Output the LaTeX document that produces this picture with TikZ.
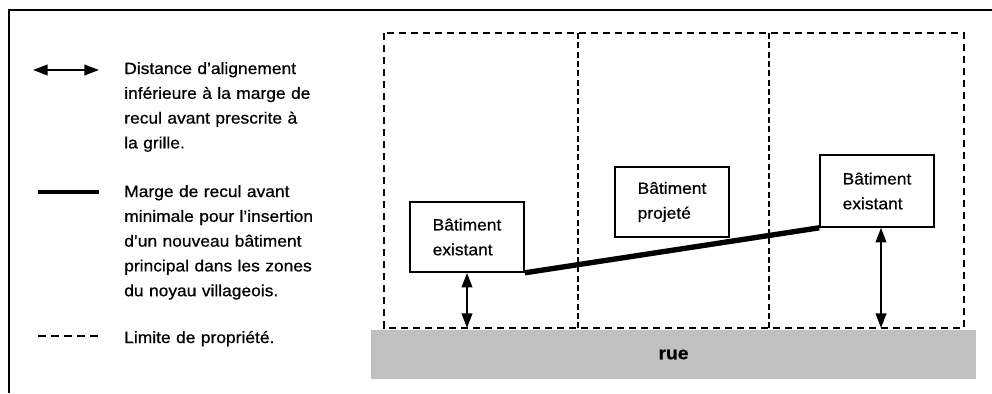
\documentclass[tikz,border=0pt]{standalone}
\usepackage{fontspec}
\setmainfont{Liberation Sans}[FakeStretch=1.07,FakeBold=0.7]
\usetikzlibrary{arrows.meta,calc}
\definecolor{ruegris}{RGB}{192,192,192}
\begin{document}
\begin{tikzpicture}[x=0.75pt,y=-0.75pt,
 txt/.style={font=\fontsize{12.2}{18.6}\selectfont},
 leg/.style={txt,inner sep=0pt,text width=160pt,align=left,anchor=base west},
 bat/.style={draw,line width=1.2pt,txt,align=left,minimum width=85.5pt,minimum height=52.5pt,inner sep=0pt},
 fl/.style={line width=1.4pt,{Triangle[length=11pt,width=8pt]}-{Triangle[length=11pt,width=8pt]}},
 marge/.style={line width=4pt},
 lim/.style={line width=1.2pt,dash pattern=on 5.5pt off 3.5pt},
 sep/.style={line width=0.8pt,dash pattern=on 4.5pt off 2.5pt}]
\useasboundingbox(0,0)rectangle(992,393);
\draw[line width=1.5pt](9,393)|-(992,10);
% legende
\coordinate(flA)at(33,70);\coordinate(flB)at(99,70);
\draw[fl](flA)--(flB);
\node[leg](legA)at(124,74){Distance d’alignement\\inférieure à la marge de\\recul avant prescrite à\\la grille.};
\coordinate(mgA)at(38,192);\coordinate(mgB)at(99,192);
\draw[line width=3.5pt](mgA)--(mgB);
\node[leg](legB)at(124,197){Marge de recul avant\\minimale pour l’insertion\\d’un nouveau bâtiment\\principal dans les zones\\du noyau villageois.};
\coordinate(lmA)at(38,336);\coordinate(lmB)at(101,336);
\draw[line width=1.1pt,dash pattern=on 6pt off 3.75pt](lmA)--(lmB);
\node[leg](legC)at(124,343){Limite de propriété.};
% rue et lots
\node[fill=ruegris,minimum width=453.75pt,minimum height=36.75pt,font=\bfseries\fontsize{13.5}{15}\selectfont](rue)at(673.5,354.5){rue};
\coordinate(lotNO)at(384,33);\coordinate(lotSE)at(964,328);
\draw[lim](lotNO)rectangle(lotSE);
\foreach \x in {578,769}{\draw[sep](\x,33)--(\x,328);}
% batiments
\node[bat](exL)at(467,237){Bâtiment\\existant};
\node[bat](proj)at(672,202){Bâtiment\\projeté};
\node[bat,minimum height=54pt](exR)at(877,191){Bâtiment\\existant};
\draw[marge](exL.south east)--(exR.south west);
\draw[fl](exL.south)--(exL.south|-lotSE);
\draw[fl]($(exR.south)+(4,0)$)--($(exR.south|-lotSE)+(4,0)$);
\end{tikzpicture}
\end{document}
